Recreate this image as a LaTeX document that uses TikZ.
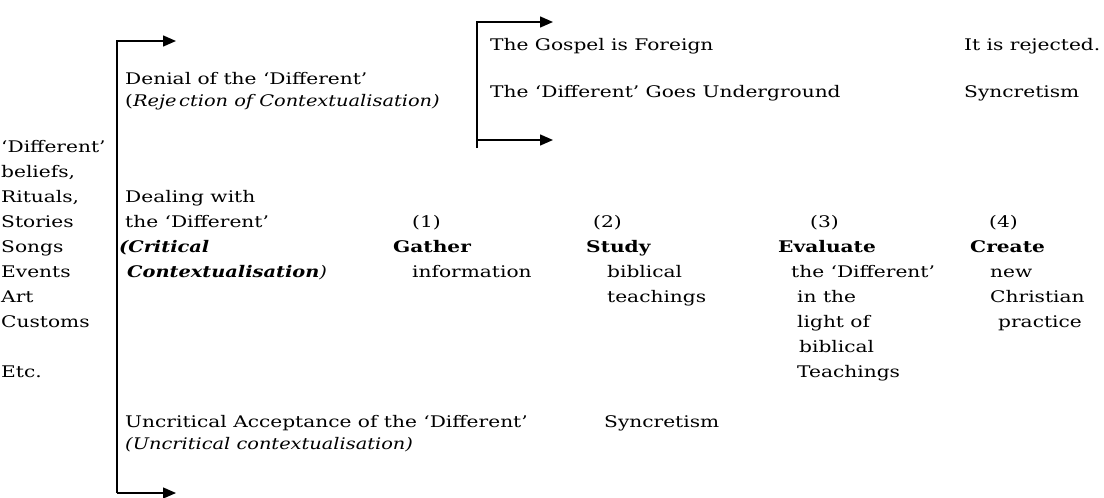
\documentclass[tikz,border=0pt]{standalone}
\usepackage{fontspec}
\setmainfont{DejaVu Serif}[FakeStretch=1.26, ItalicFeatures={FakeStretch=1.21}, BoldItalicFeatures={FakeStretch=1.21}]
\usepackage{tikz}
\usetikzlibrary{arrows.meta}

\begin{document}
\begin{tikzpicture}[x=1pt, y=-1pt]
% Define styles
\tikzstyle{txt} = [inner sep=0pt, anchor=base west, align=left, font=\fontsize{16}{25}\selectfont]
\tikzstyle{pair} = [txt, font=\fontsize{16}{22}\selectfont]
\tikzstyle{arrow} = [line width=1.4pt, -{Triangle[length=13pt,width=11pt]}]
\useasboundingbox (0,0) rectangle (1104,498);
% Place nodes (anchor is the baseline of the last line)
\node (items) [txt] at (1,377) {`Different'\\beliefs,\\Rituals,\\Stories\\Songs\\Events\\Art\\Customs\\[25pt]Etc.};
\node (denial) [pair] at (125,106) {Denial of the `Different'\\(\textit{Reje\,ction of Contextualisation)}};
\node (gospel) [txt] at (490,50) {The Gospel is Foreign};
\node (under) [txt] at (490,97) {The `Different' Goes Underground};
\node (reject) [txt] at (964,50) {It is rejected.};
\node (sync1) [txt] at (964,97) {Syncretism};
\node (dealing) [txt] at (125,277) {Dealing with\\the `Different'\\\hspace*{-6pt}\textbf{\textit{(Critical}}\\\hspace*{2pt}\textbf{\textit{Contextualisation}}\textit{)}};
\node (gather) [txt] at (393,277) {\hspace*{19pt}(1)\\\textbf{Gather}\\\hspace*{19pt}information};
\node (study) [txt] at (586,302) {\hspace*{7pt}(2)\\\textbf{Study}\\\hspace*{21pt}biblical\\\hspace*{21pt}teachings};
\node (evaluate) [txt] at (778,377) {\hspace*{32pt}(3)\\\textbf{Evaluate}\\\hspace*{13pt}the `Different'\\\hspace*{19pt}in the\\\hspace*{19pt}light of\\\hspace*{21pt}biblical\\\hspace*{19pt}Teachings};
\node (create) [txt] at (970,327) {\hspace*{19pt}(4)\\\textbf{Create}\\\hspace*{20pt}new\\\hspace*{20pt}Christian\\\hspace*{28pt}practice};
\node (uncrit) [pair] at (125,449) {Uncritical Acceptance of the `Different'\\\textit{(Uncritical contextualisation)}};
\node (sync2) [txt] at (604,427) {Syncretism};
% Bracket corners
\coordinate (mtop) at (117,41);
\coordinate (mbot) at (117,493);
\coordinate (mtoptip) at (176,41);
\coordinate (mbottip) at (176,493);
\coordinate (btop) at (477,22);
\coordinate (bbot) at (477,148);
\coordinate (bmid) at (477,140);
\coordinate (btoptip) at (553,22);
\coordinate (bmidtip) at (553,140);
% Draw arrows
\draw [arrow] (mbot) -- (mtop) -- (mtoptip);
\draw [arrow] (mbot) -- (mbottip);
\draw [arrow] (bbot) -- (btop) -- (btoptip);
\draw [arrow] (bmid) -- (bmidtip);
\end{tikzpicture}
\end{document}
